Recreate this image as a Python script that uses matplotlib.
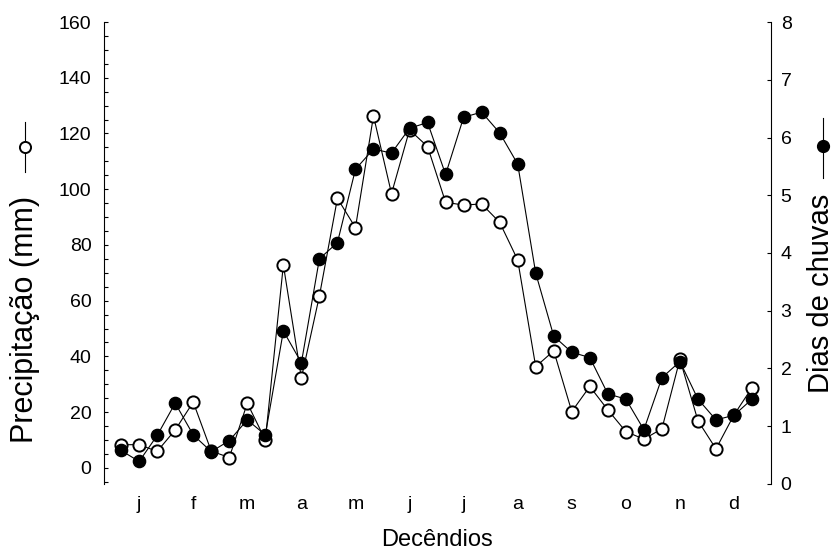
import matplotlib
matplotlib.use("Agg")
import matplotlib.pyplot as plt
from matplotlib.lines import Line2D
import numpy as np

# Decêndios (3 per month), precipitation (mm) and rainy days
months = ["j", "f", "m", "a", "m", "j", "j", "a", "s", "o", "n", "d"]
precip = [8.3, 8.3, 5.9, 13.6, 23.6, 6.0, 3.7, 23.2, 10.0, 72.8, 32.2, 61.7,
          96.7, 86.2, 126.3, 98.4, 121.3, 115.3, 95.3, 94.3, 94.7, 88.1, 74.6, 36.3,
          42.0, 20.2, 29.2, 20.8, 13.0, 10.3, 14.0, 39.0, 16.9, 6.8, 19.0, 28.8]
dias = [0.58, 0.39, 0.84, 1.40, 0.85, 0.56, 0.75, 1.11, 0.85, 2.65, 2.10, 3.90,
        4.18, 5.45, 5.80, 5.73, 6.16, 6.26, 5.36, 6.35, 6.44, 6.08, 5.54, 3.65,
        2.56, 2.28, 2.19, 1.56, 1.47, 0.94, 1.84, 2.12, 1.47, 1.11, 1.19, 1.47]

fonts = ["Liberation Sans", "DejaVu Sans"]
plt.rcParams["font.family"] = fonts

x = np.arange(len(precip))

fig = plt.figure(figsize=(8.36, 5.53), dpi=100)
ax = fig.add_axes([0.1244, 0.1248, 0.7978, 0.8354])
ax2 = ax.twinx()

ax.plot(x, precip, color="black", lw=0.8, marker="o", ms=8.8,
        mfc="white", mec="black", mew=1.4)
ax2.plot(x, dias, color="black", lw=0.8, marker="o", ms=8.8,
         mfc="black", mec="black", mew=1.0)

ax.set_xlim(-0.95, 36.05)
ax.set_ylim(-5.8, 160)
ax2.set_ylim(0, 8)

ax.set_yticks(np.arange(0, 161, 20))
ax.set_yticks(np.arange(-5, 161, 5), minor=True)
ax.tick_params(axis="y", which="both", direction="in", length=3, width=0.8,
               labelsize=14, pad=9)
ax2.set_yticks(np.arange(0, 9, 1))
ax2.tick_params(axis="y", direction="in", length=3, width=0.8,
                labelsize=14, pad=7)

ax.set_xticks(np.arange(1, 36, 3))
ax.set_xticklabels(months)
ax.tick_params(axis="x", length=0, labelsize=14, pad=9)
ax.set_xlabel("Decêndios", fontsize=17, labelpad=11)

for a in (ax, ax2):
    a.spines["top"].set_visible(False)
    a.spines["bottom"].set_visible(False)
    a.spines["left"].set_linewidth(0.8)
    a.spines["right"].set_linewidth(0.8)
ax.spines["right"].set_visible(False)
ax2.spines["left"].set_visible(False)

# y labels with their series symbols
fig.text(0.0299, 0.423, "Precipitação (mm)", rotation=90, ha="center",
         va="center", fontsize=22)
fig.text(0.982, 0.470, "Dias de chuvas", rotation=90, ha="center",
         va="center", fontsize=21)

fig.add_artist(Line2D([0.0299, 0.0299], [0.7794, 0.689], transform=fig.transFigure,
                      color="black", lw=0.8))
fig.add_artist(Line2D([0.0299], [0.734], transform=fig.transFigure, marker="o",
                      ms=8, mfc="white", mec="black", mew=1.4, ls="none"))
fig.add_artist(Line2D([0.9844, 0.9844], [0.7866, 0.6781], transform=fig.transFigure,
                      color="black", lw=0.8))
fig.add_artist(Line2D([0.9844], [0.736], transform=fig.transFigure, marker="o",
                      ms=8.5, mfc="black", mec="black", ls="none"))

fig.savefig("out.png", dpi=100, facecolor="white")
